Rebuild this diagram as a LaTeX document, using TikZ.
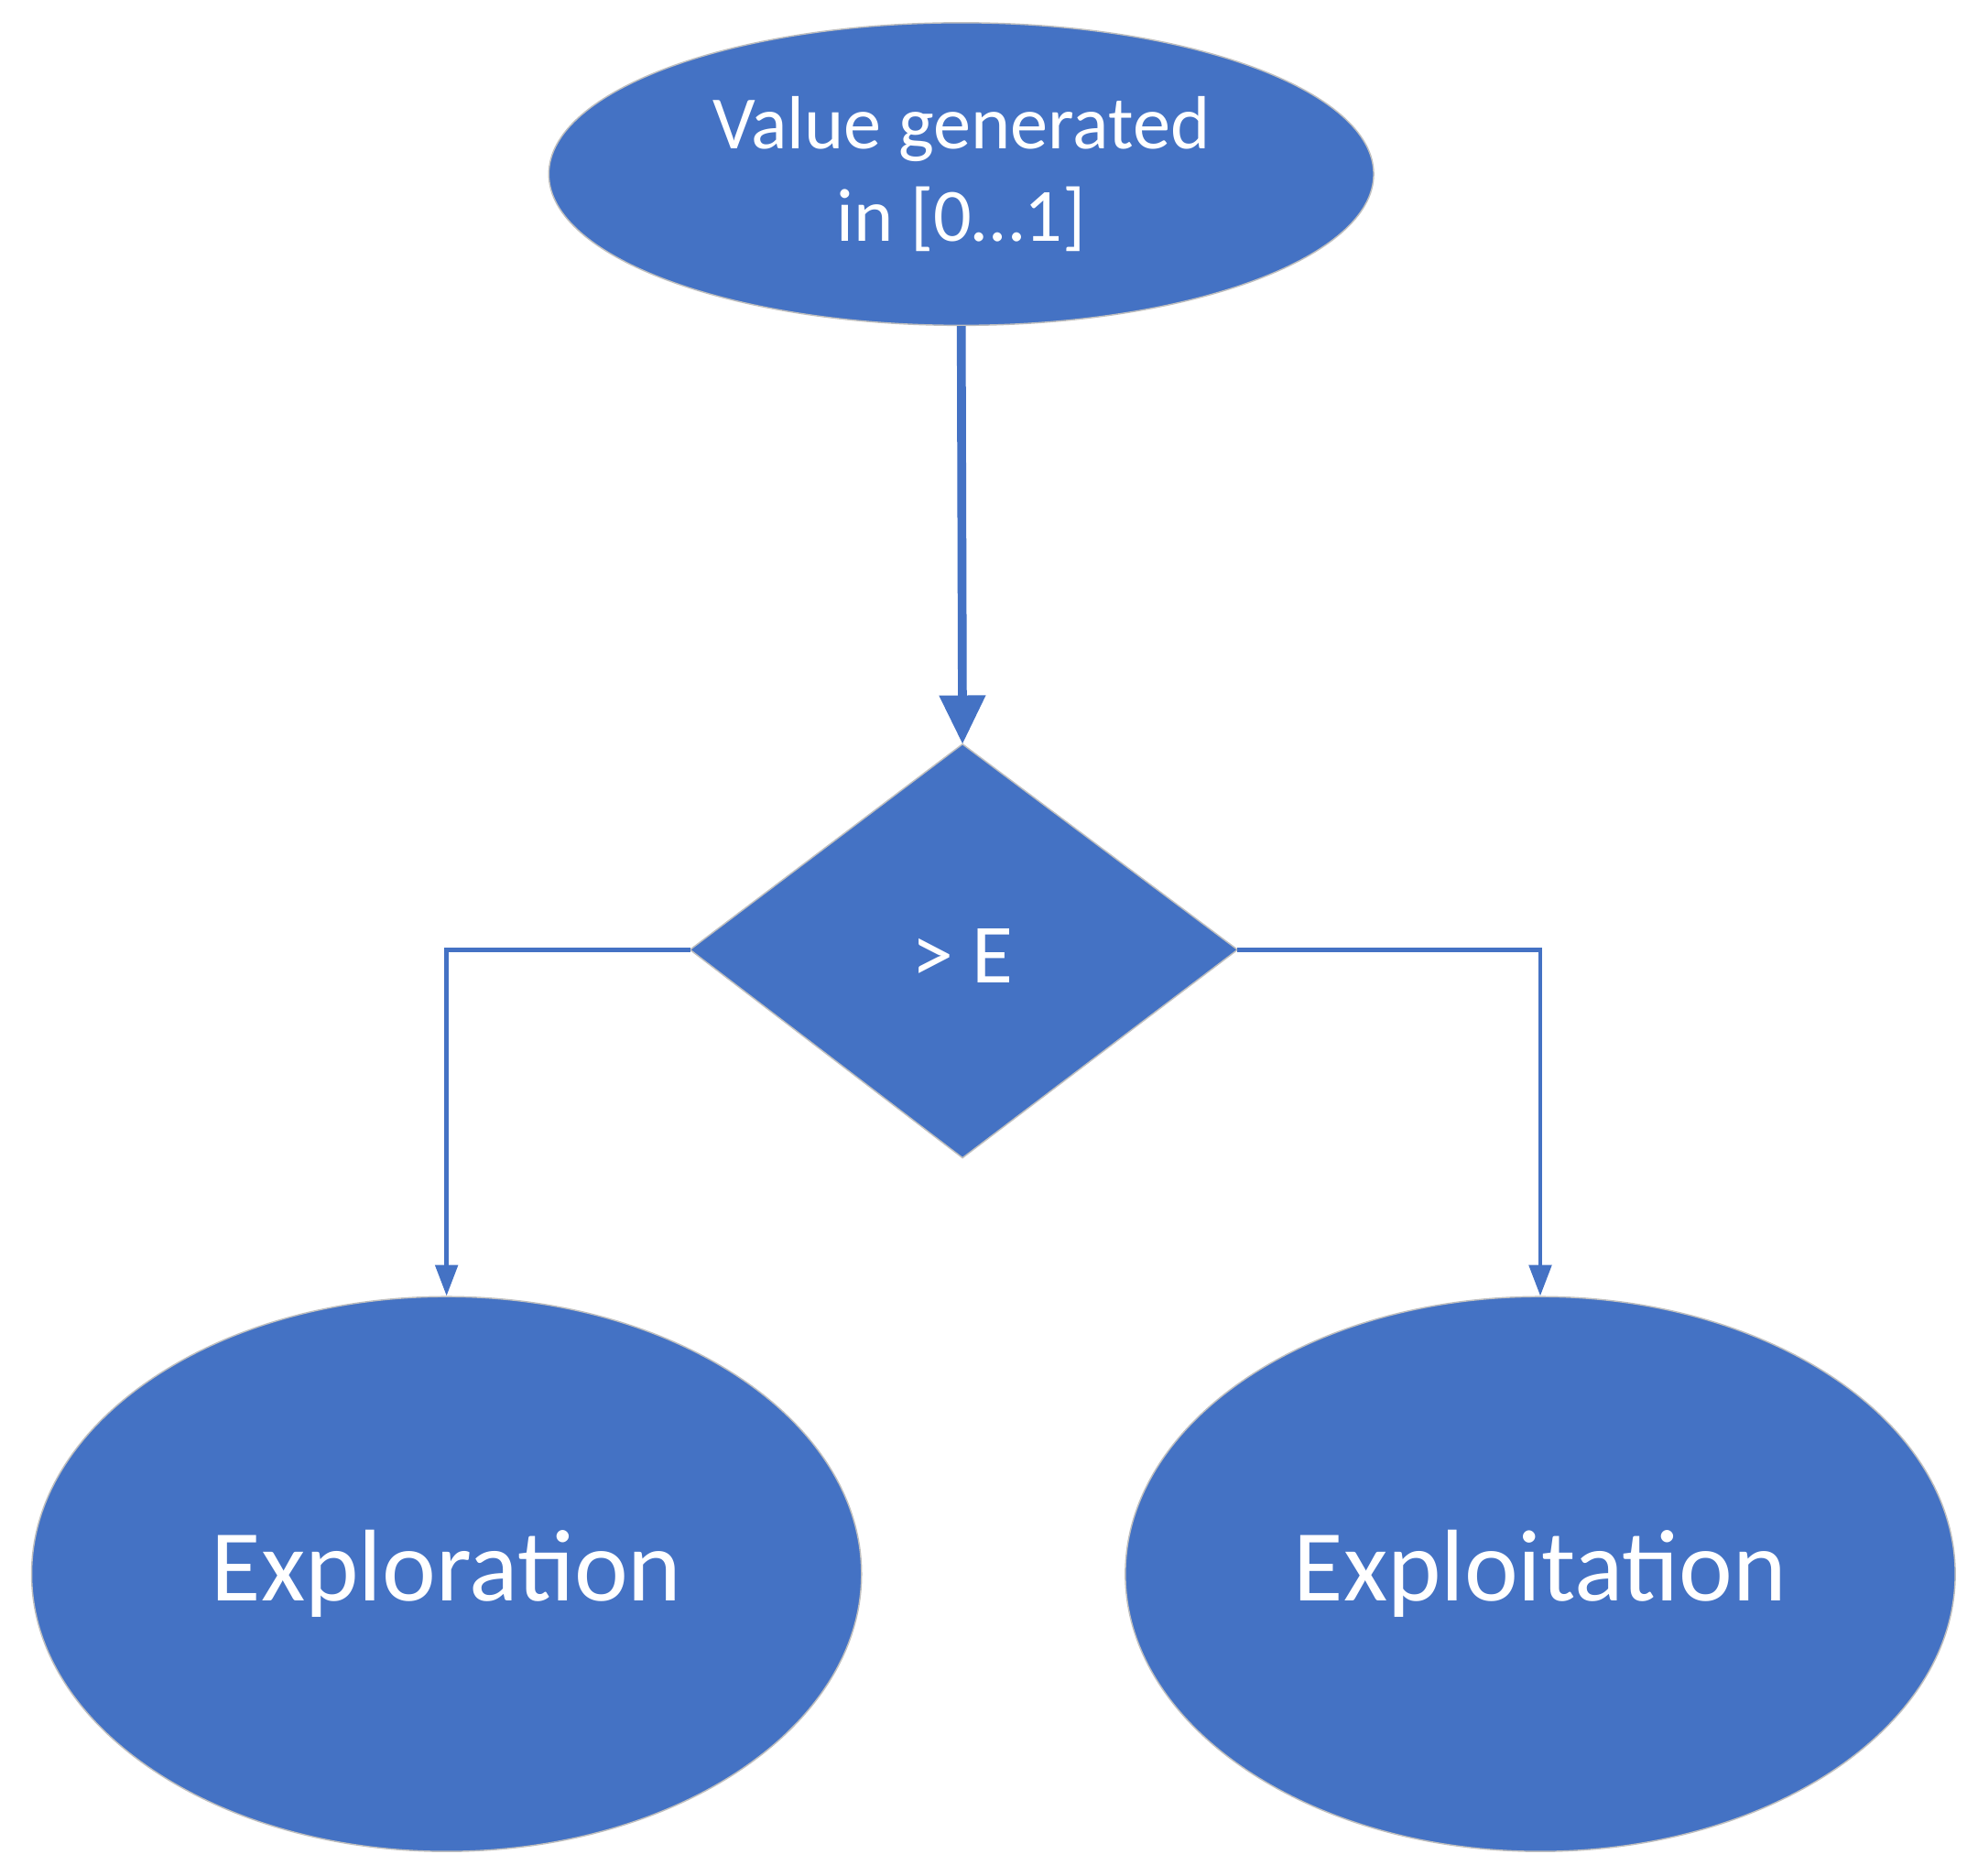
\documentclass[tikz,border=0pt]{standalone}
\usepackage{fontspec}
\setmainfont{Carlito}
\usetikzlibrary{shapes.geometric,arrows.meta}
\definecolor{blu}{HTML}{4472C4}
\begin{document}
\begin{tikzpicture}[x=0.02cm,y=-0.02cm,
  box/.style={ellipse,fill=blu,draw=black!25,line width=0.6pt,text=white,inner sep=0pt,align=center},
  con/.style={draw=blu,line width=2pt,-{Triangle[length=14pt,width=10pt]}}]
\useasboundingbox (0,0) rectangle (1568,1487);
\node[box,minimum width=13.08cm,minimum height=4.8cm,font=\fontsize{34}{42}\selectfont] (top) at (762,138) {Value generated\\in [0…1]};
\coordinate (dt) at (763,590);
\coordinate (dl) at (547,753);
\coordinate (dr) at (981,753);
\coordinate (db) at (763,918);
\fill[blu,draw=black!25,line width=0.6pt] (dt)--(dr)--(db)--(dl)--cycle;
\node[text=white,font=\fontsize{38}{44}\selectfont] (d) at (763,758) {> E};
\node[box,minimum width=13.16cm,minimum height=8.8cm,font=\fontsize{46}{54}\selectfont] (l) at (354,1248) {Exploration};
\node[box,minimum width=13.16cm,minimum height=8.8cm,font=\fontsize{46}{54}\selectfont] (r) at (1221,1248) {Exploitation};
\draw[con,line width=4pt,-{Triangle[length=22pt,width=20pt]}] (top.south) -- (dt);
\draw[con] (dl) -| (l.north);
\draw[con] (dr) -| (r.north);
\end{tikzpicture}
\end{document}
